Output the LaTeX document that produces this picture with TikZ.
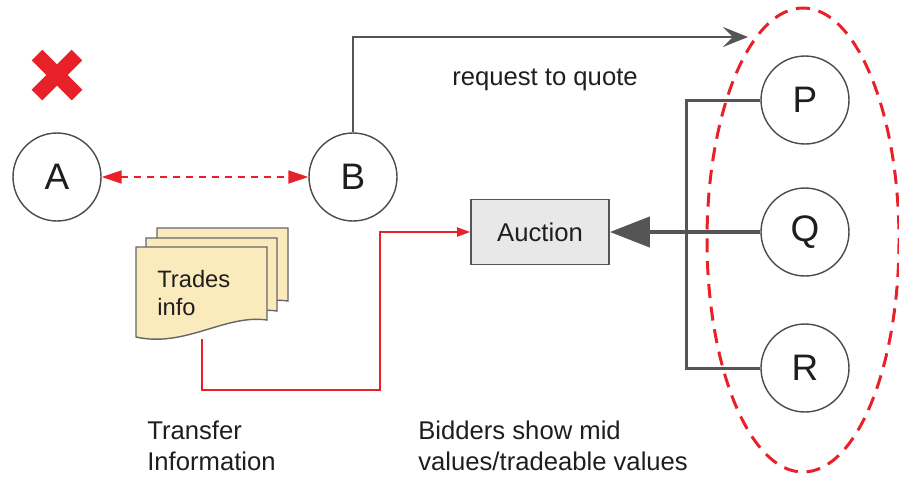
\documentclass[tikz,border=0pt]{standalone}
\usepackage{fontspec}
\setmainfont{Liberation Sans}
\usetikzlibrary{arrows.meta}
\tikzset{>=latex}
\definecolor{mygray}{RGB}{85, 85, 85}
\definecolor{myred}{RGB}{232, 32, 40}
\definecolor{mypaper}{RGB}{250, 234, 188}
\definecolor{mybox}{RGB}{232, 232, 232}
\definecolor{myink}{RGB}{30, 30, 30}
\tikzset{
  party/.style={circle, draw=black!70, line width=0.8pt, fill=white, minimum size=1.76cm, inner sep=0pt, text=myink, font=\fontsize{21}{24}\selectfont},
  note/.style={inner sep=0pt, align=left, text=myink, font=\fontsize{14.6}{18}\selectfont},
  graylink/.style={draw=mygray, line width=1.7pt},
  redlink/.style={draw=myred, line width=1.1pt},
  paper/.style={draw=black!60, line width=0.8pt, fill=mypaper}
}

\begin{document}
\begin{tikzpicture}[x=0.02cm, y=-0.02cm]
\useasboundingbox (0,0) rectangle (899,481);

\draw[myred, line width=8.5pt] (37,55) -- (77,95) (37,95) -- (77,55);

\node[party] (A) at (57,177) {A};
\node[party] (B) at (353,177) {B};
\foreach \n/\y in {P/100, Q/232, R/368}{
\node[party] (\n) at (805,\y) {\n};
}

\draw[myred, line width=1.7pt, dash pattern=on 8pt off 5pt] (803,240) ellipse [x radius=96, y radius=232];

\draw[redlink, line width=1pt, dash pattern=on 4pt off 3.4pt, {Triangle[length=0.4cm, width=0.26cm]}-{Triangle[length=0.4cm, width=0.26cm]}] (A) -- (B);

\coordinate (rfq) at (748,37);
\draw[graylink, -{Stealth[length=0.5cm, width=0.4cm, inset=0.2cm]}] (B.north) |- (rfq);
\node[note] (rfqtext) at (545,80) {request to quote};

\node[draw=mygray, line width=1pt, fill=mybox, minimum width=2.76cm, minimum height=1.3cm, text=myink, font=\fontsize{14.6}{18}\selectfont] (auction) at (540,232) {Auction};

\coordinate (join) at (686,232);
\draw[graylink] (P.west) -| (join) |- (R.west);
\draw[graylink, line width=2.4pt, -{Triangle[length=0.8cm, width=0.6cm]}] (Q.west) -- (auction.east);

\foreach \dx/\dy in {21/-19, 10/-9, 0/0}{
\draw[paper, shift={(\dx,\dy)}] (136,247) -- (267,247) -- (267,320) .. controls (225,314) and (185,348) .. (136,337) -- cycle;
}
\node[note, anchor=west, font=\fontsize{13.5}{15.5}\selectfont] (trades) at (157,293) {Trades\\info};

\coordinate (docfoot) at (202,339);
\coordinate (turn) at (380,390);
\draw[redlink, -{Triangle[length=0.26cm, width=0.18cm]}] (docfoot) |- (turn) |- (auction.west);

\node[note, anchor=west] (transfer) at (147,446) {Transfer\\Information};
\node[note, anchor=west] (bidders) at (418,446) {Bidders show mid\\values/tradeable values};

\end{tikzpicture}
\end{document}
